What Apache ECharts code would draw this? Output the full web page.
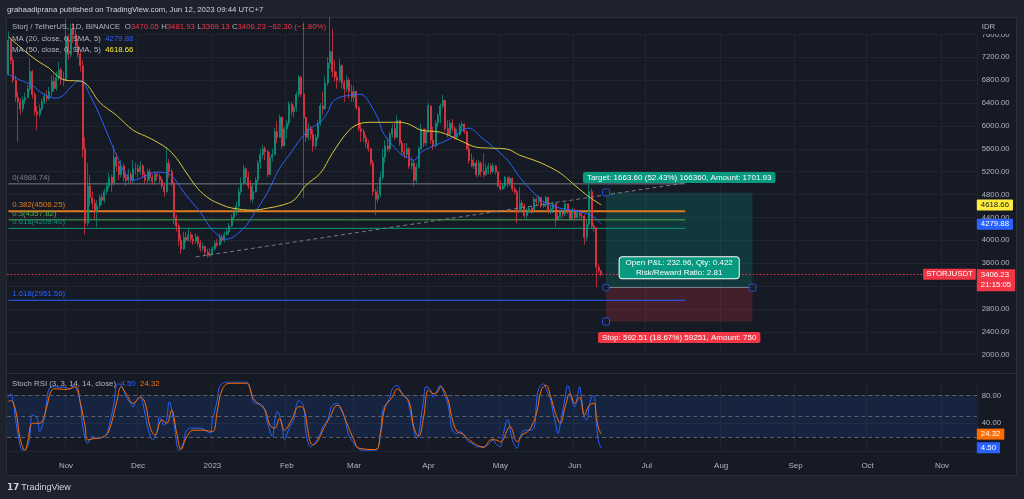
<!DOCTYPE html>
<html><head><meta charset="utf-8">
<script src="https://cdn.jsdelivr.net/npm/echarts@6/dist/echarts.min.js"></script>
<style>html,body{margin:0;padding:0;background:#1e222d;}#c{width:1024px;height:499px;}</style>
</head><body><div id="c"></div>
<script>
// ---------- data ----------
const FIRST_DAY = '2022-10-08';
const LAST_DAY = '2023-11-15';
const firstOpen = 6900;
// daily closes from 2022-10-08 to 2023-06-12
const closes = [
 // Oct 8-31
 7500,7150,6800,6500,6420,6300,6450,6500,6650,6950,6550,6250,6200,6300,6420,6520,6480,6600,6780,6650,6850,6980,6820,6800,
 // Nov
 7550,7250,7700,7600,7400,7250,7050,5600,4300,4950,4750,4650,4500,4600,4750,4700,4850,4950,5100,5000,5450,5300,5150,5300,5100,5050,5150,5050,5250,5250,
 // Dec
 5200,5300,5150,5050,5200,5100,5030,5150,5120,5050,4950,4850,5350,5200,5000,4400,4250,4000,3850,4050,4000,4100,4020,3990,4060,3950,3860,3890,3790,3740,3760,
 // Jan
 3850,3950,3920,4050,4000,4100,4150,4250,4400,4500,4600,4850,5000,5250,5100,4950,4720,4850,5050,5350,5500,5600,5550,5150,5450,5500,5900,5800,6150,5650,5950,
 // Feb
 6050,6380,6250,6320,6550,6850,6560,6150,5800,5950,5850,5650,5800,6050,6350,6300,6750,7100,7300,6950,6850,6800,7050,6750,6650,6800,6600,6500,
 // Mar
 6600,6320,5950,5900,5800,5700,5600,5350,4850,4720,4800,5100,5450,5650,5600,5850,5950,5800,6100,5700,5550,5500,5600,5300,5350,5050,5280,5600,5950,5700,5900,
 // Apr
 6350,5750,5650,6050,6180,6350,6450,5950,5850,6050,5950,5800,5850,6000,6030,5900,5600,5400,5300,5350,5150,5350,5200,5150,5250,5300,5200,5300,5200,4950,
 // May
 4900,4950,5100,5000,5080,4900,4850,4500,4650,4600,4430,4500,4560,4520,4720,4680,4750,4600,4620,4750,4500,4550,4640,4360,4420,4500,4460,4640,4500,4380,4520,
 // Jun 1-12
 4400,4480,4430,4420,4050,4280,4850,4250,4220,3530,3468.53,3406.23
];
const highs = [
 7650,7550,7200,6880,6600,6480,6520,6580,6720,7180,6980,6600,6350,6380,6480,6580,6620,6680,6880,6900,6950,7120,7020,6950,
 7870,7600,7790,7800,7700,7500,7300,7150,5800,5350,5150,4850,4720,4700,4800,4820,4900,5020,5180,5150,5660,5520,5380,5400,5350,5200,5250,5200,5400,5350,
 5330,5380,5330,5200,5250,5250,5150,5200,5200,5170,5100,5000,5630,5420,5250,5030,4450,4300,4100,4150,4150,4200,4150,4100,4120,4090,4000,3960,3900,3850,3860,
 3900,4000,4020,4120,4100,4150,4200,4300,4450,4560,4680,4920,5100,5320,5280,5200,5050,5000,5100,5400,5600,5670,5650,5580,5550,5600,5960,6080,6200,6000,6000,
 6100,6430,6420,6370,6600,6890,6880,7810,6100,6050,6000,5950,5850,6100,6400,6600,6880,7200,7900,7700,7150,6950,7180,7080,6800,6880,6850,6720,
 6700,6620,6350,6050,5950,5850,5750,5620,5400,4900,4950,5200,5600,5750,5800,5900,6030,6050,6190,6100,5750,5700,5700,5630,5460,5400,5350,5640,6040,5950,5950,
 6400,6160,5980,6100,6220,6390,6540,6450,6100,6100,6120,5990,5950,6050,6080,6050,5930,5700,5520,5450,5400,5400,5380,5520,5340,5350,5340,5350,5320,5200,
 5050,5000,5130,5110,5120,5100,4950,4880,4930,4700,4640,4560,4600,4600,4760,4750,4780,4760,4680,4780,4760,4600,4680,4650,4480,4540,4530,4660,4620,4550,4570,
 4560,4520,4500,4480,4450,4350,4990,4900,4300,4230,3590,3481.93
];
const lows = [
 6880,7080,6750,6420,5720,6200,6250,6380,6480,6600,6480,6180,5930,6150,6250,6380,6420,6450,6520,6600,6620,6800,6720,6700,
 6780,7150,7200,7450,7300,7200,6950,5450,4100,4250,4600,4550,4380,4230,4550,4620,4650,4800,4900,4850,4950,5200,5050,5100,5030,4950,5000,4980,5000,5150,
 5100,5150,5100,5000,5000,5030,4970,5000,5050,5000,4900,4760,4830,5100,4950,4280,4150,3900,3760,3830,3950,3980,3960,3920,3940,3900,3800,3810,3730,3700,3700,
 3740,3820,3880,3900,3950,3960,4080,4100,4230,4350,4440,4550,4800,4980,5000,4900,4680,4650,4830,5000,5250,5420,5400,5100,5300,5380,5480,5700,5850,5600,5700,
 5780,6000,6180,6150,6250,6500,6500,4740,5720,5750,5750,5550,5600,5750,6000,6200,6280,6700,7000,6850,6770,6650,6750,6650,6420,6600,6480,6420,
 6420,6280,5900,5720,5720,5620,5550,5300,4780,4440,4650,4750,5050,5350,5550,5550,5800,5750,5780,5650,5480,5430,5450,5250,5230,4940,5000,5250,5580,5630,5650,
 5880,5690,5580,5620,5980,6040,6300,5900,5800,5830,5900,5750,5760,5820,5900,5860,5570,5340,5280,5250,5100,5110,5110,5100,5120,5160,5150,5170,5150,4930,
 4870,4880,4900,4930,4950,4850,4800,4300,4480,4500,4400,4380,4470,4460,4480,4600,4620,4560,4560,4580,4460,4460,4480,4240,4340,4380,4400,4420,4460,4350,4360,
 4350,4380,4380,4350,3920,3980,4230,4200,4150,3180,3420,3369.13
];
// moving averages
const ma20Points = [
 ['2022-10-08',6900],['2022-10-13',6800],['2022-10-18',6710],['2022-10-22',6570],['2022-10-28',6485],['2022-10-31',6540],
 ['2022-11-03',6680],['2022-11-07',6800],['2022-11-11',6535],['2022-11-15',6190],['2022-11-19',5785],['2022-11-22',5490],
 ['2022-11-26',5140],['2022-11-29',5050],['2022-12-03',5105],['2022-12-09',5190],['2022-12-13',5175],['2022-12-16',5085],
 ['2022-12-21',4790],['2022-12-27',4490],['2023-01-01',4180],['2023-01-07',4020],['2023-01-14',4210],['2023-01-18',4440],
 ['2023-01-24',4840],['2023-01-29',5260],['2023-02-02',5490],['2023-02-07',5785],['2023-02-11',5960],['2023-02-15',6065],
 ['2023-02-18',6240],['2023-02-20',6415],['2023-02-23',6500],['2023-02-27',6535],['2023-03-02',6555],['2023-03-05',6535],
 ['2023-03-08',6360],['2023-03-11',6135],['2023-03-13',5890],['2023-03-17',5665],['2023-03-21',5490],['2023-03-24',5435],
 ['2023-03-26',5400],['2023-03-29',5540],['2023-04-02',5630],['2023-04-07',5715],['2023-04-11',5800],['2023-04-15',5925],
 ['2023-04-18',5960],['2023-04-23',5800],['2023-04-28',5630],['2023-05-04',5400],['2023-05-09',5105],['2023-05-15',4825],
 ['2023-05-20',4650],['2023-05-26',4560],['2023-05-31',4525],['2023-06-04',4490],['2023-06-09',4405],['2023-06-12',4279.88]
];
const ma50Points = [
 ['2022-10-08',7560],['2022-10-13',7375],['2022-10-17',7235],['2022-10-21',7113],['2022-10-25',7008],['2022-10-29',6851],
 ['2022-11-01',6798],['2022-11-07',6781],['2022-11-10',6711],['2022-11-15',6414],['2022-11-22',6187],['2022-11-29',5925],
 ['2022-12-06',5785],['2022-12-13',5610],['2022-12-17',5436],['2022-12-21',5191],['2022-12-26',4900],['2022-12-31',4720],
 ['2023-01-05',4620],['2023-01-09',4565],['2023-01-18',4527],['2023-01-24',4562],['2023-01-30',4614],['2023-02-04',4702],
 ['2023-02-09',4964],['2023-02-15',5174],['2023-02-20',5523],['2023-02-27',5925],['2023-03-04',6047],['2023-03-09',6064],
 ['2023-03-15',6064],['2023-03-20',6064],['2023-03-24',6029],['2023-03-29',5925],['2023-04-06',5890],['2023-04-14',5750],
 ['2023-04-21',5628],['2023-04-28',5610],['2023-05-04',5593],['2023-05-09',5488],['2023-05-15',5401],['2023-05-20',5313],
 ['2023-05-26',5174],['2023-05-31',4999],['2023-06-06',4789],['2023-06-12',4618.66]
];
// Stoch RSI %K (blue) and %D (orange)
const stochK = [
 ['2022-10-08',78],['2022-10-09',83],['2022-10-10',71],['2022-10-11',45],['2022-10-13',6],['2022-10-14',1],['2022-10-16',6],
 ['2022-10-17',25],['2022-10-18',52],['2022-10-20',47],['2022-10-21',28],['2022-10-23',49],['2022-10-24',73],['2022-10-25',90],
 ['2022-10-27',93],['2022-10-31',92],['2022-11-03',90],['2022-11-04',95],['2022-11-05',93],['2022-11-07',69],['2022-11-08',35],
 ['2022-11-10',11],['2022-11-11',16],['2022-11-12',21],['2022-11-14',18],['2022-11-17',21],['2022-11-18',25],['2022-11-19',37],
 ['2022-11-21',69],['2022-11-22',95],['2022-11-23',97],['2022-11-25',88],['2022-11-26',78],['2022-11-28',69],['2022-11-29',64],
 ['2022-11-30',71],['2022-12-02',78],['2022-12-03',69],['2022-12-05',35],['2022-12-06',23],['2022-12-07',16],['2022-12-09',28],
 ['2022-12-10',49],['2022-12-12',37],['2022-12-13',47],['2022-12-14',71],['2022-12-16',40],['2022-12-17',13],['2022-12-18',1],
 ['2022-12-20',13],['2022-12-21',28],['2022-12-23',33],['2022-12-27',33],['2022-12-31',26],['2023-01-01',45],['2023-01-03',73],
 ['2023-01-04',93],['2023-01-07',100],['2023-01-15',100],['2023-01-17',88],['2023-01-18',71],['2023-01-19',69],['2023-01-22',66],
 ['2023-01-24',40],['2023-01-26',21],['2023-01-27',45],['2023-01-28',57],['2023-01-30',37],['2023-01-31',16],['2023-02-02',33],
 ['2023-02-04',47],['2023-02-05',66],['2023-02-06',73],['2023-02-08',64],['2023-02-09',25],['2023-02-11',6],['2023-02-12',9],
 ['2023-02-13',13],['2023-02-15',25],['2023-02-16',35],['2023-02-18',45],['2023-02-19',57],['2023-02-20',66],['2023-02-22',69],
 ['2023-02-23',64],['2023-02-25',49],['2023-02-26',33],['2023-02-27',21],['2023-03-01',11],['2023-03-02',6],['2023-03-04',1],
 ['2023-03-10',1],['2023-03-12',25],['2023-03-13',59],['2023-03-15',71],['2023-03-16',78],['2023-03-17',90],['2023-03-19',95],
 ['2023-03-20',90],['2023-03-22',78],['2023-03-23',76],['2023-03-24',64],['2023-03-26',30],['2023-03-27',18],['2023-03-28',25],
 ['2023-03-29',50],['2023-03-30',73],['2023-03-31',93],['2023-04-02',88],['2023-04-03',78],['2023-04-04',83],['2023-04-06',95],
 ['2023-04-07',88],['2023-04-09',69],['2023-04-10',49],['2023-04-11',30],['2023-04-13',25],['2023-04-14',28],['2023-04-16',23],
 ['2023-04-17',16],['2023-04-18',13],['2023-04-20',9],['2023-04-21',6],['2023-04-24',6],['2023-04-27',13],['2023-04-28',18],
 ['2023-04-29',11],['2023-05-01',6],['2023-05-02',21],['2023-05-04',45],['2023-05-06',16],['2023-05-08',4],['2023-05-09',16],
 ['2023-05-11',30],['2023-05-12',30],['2023-05-15',33],['2023-05-16',69],['2023-05-17',90],['2023-05-19',97],['2023-05-20',90],
 ['2023-05-22',73],['2023-05-23',54],['2023-05-24',40],['2023-05-25',25],['2023-05-26',40],['2023-05-28',78],['2023-05-29',95],
 ['2023-05-31',71],['2023-06-01',64],['2023-06-02',78],['2023-06-03',93],['2023-06-04',70],['2023-06-05',48],['2023-06-06',45],
 ['2023-06-07',65],['2023-06-08',78],['2023-06-09',80],['2023-06-10',40],['2023-06-11',12],['2023-06-12',4.50]
];
const stochD = [
 ['2022-10-08',72],['2022-10-09',73],['2022-10-11',59],['2022-10-13',16],['2022-10-15',1],['2022-10-16',13],['2022-10-18',40],
 ['2022-10-20',40],['2022-10-22',42],['2022-10-24',64],['2022-10-26',88],['2022-10-28',90],['2022-11-01',89],['2022-11-05',93],
 ['2022-11-07',69],['2022-11-09',35],['2022-11-10',16],['2022-11-13',18],['2022-11-17',21],['2022-11-19',30],['2022-11-22',69],
 ['2022-11-24',93],['2022-11-26',83],['2022-11-29',69],['2022-12-02',78],['2022-12-04',69],['2022-12-06',35],['2022-12-08',23],
 ['2022-12-11',45],['2022-12-13',40],['2022-12-15',59],['2022-12-17',28],['2022-12-19',2],['2022-12-21',18],['2022-12-24',30],
 ['2022-12-28',30],['2023-01-01',28],['2023-01-03',57],['2023-01-05',88],['2023-01-08',98],['2023-01-15',98],['2023-01-18',76],
 ['2023-01-21',66],['2023-01-23',59],['2023-01-25',37],['2023-01-27',33],['2023-01-29',47],['2023-01-31',30],['2023-02-03',45],
 ['2023-02-06',64],['2023-02-08',62],['2023-02-10',25],['2023-02-11',11],['2023-02-12',9],['2023-02-14',15],['2023-02-16',30],
 ['2023-02-19',49],['2023-02-22',66],['2023-02-23',65],['2023-02-26',40],['2023-03-01',16],['2023-03-03',4],['2023-03-10',2],
 ['2023-03-12',25],['2023-03-14',64],['2023-03-17',78],['2023-03-19',90],['2023-03-21',83],['2023-03-24',71],['2023-03-26',33],
 ['2023-03-28',21],['2023-03-30',49],['2023-04-01',88],['2023-04-03',83],['2023-04-05',86],['2023-04-06',93],['2023-04-09',76],
 ['2023-04-11',45],['2023-04-13',28],['2023-04-15',25],['2023-04-18',16],['2023-04-21',9],['2023-04-24',5],['2023-04-27',16],
 ['2023-04-29',16],['2023-05-01',13],['2023-05-05',35],['2023-05-08',13],['2023-05-10',23],['2023-05-13',30],['2023-05-16',54],
 ['2023-05-18',88],['2023-05-20',95],['2023-05-22',78],['2023-05-24',54],['2023-05-26',40],['2023-05-28',64],['2023-05-30',83],
 ['2023-06-01',69],['2023-06-03',78],['2023-06-05',52],['2023-06-07',66],['2023-06-09',69],['2023-06-10',48],['2023-06-11',32],
 ['2023-06-12',24.32]
];
const monthTicks = [
 ['2022-11-01','Nov'],['2022-12-01','Dec'],['2023-01-01','2023'],['2023-02-01','Feb'],['2023-03-01','Mar'],['2023-04-01','Apr'],
 ['2023-05-01','May'],['2023-06-01','Jun'],['2023-07-01','Jul'],['2023-08-01','Aug'],['2023-09-01','Sep'],['2023-10-01','Oct'],['2023-11-01','Nov']
];
const fibLevels = [
 ['0',4986.74,'#787b86'],['0.382',4506.25,'#e07b1f'],['0.5',4357.82,'#4caf50'],['0.618',4209.40,'#089981'],['1.618',2951.56,'#2962ff']
];
const fibStart = '2022-10-08', fibEnd = '2023-07-17';
const trendLine = [['2022-12-25',3709],['2023-07-17',5003]];
const position = {start:'2023-06-14', end:'2023-08-14', entry:3173.1, target:4836.7, stop:2580.6};
const lastClose = 3406.23, ma20Last = 4279.88, ma50Last = 4618.66, kLast = 4.50, dLast = 24.32;

// ---------- build ----------
const days = [];
{
  const a = FIRST_DAY.split('-').map(Number), b = LAST_DAY.split('-').map(Number);
  for (let t = Date.UTC(a[0],a[1]-1,a[2]); t <= Date.UTC(b[0],b[1]-1,b[2]); t += 86400000) {
    days.push(new Date(t).toISOString().slice(0,10));
  }
}
const candles = closes.map((c,i)=>[i===0?firstOpen:closes[i-1], c, lows[i], highs[i]]);
const monthMap = {}; monthTicks.forEach(([d,l])=>monthMap[d]=l);
const isMonth = (idx, val) => monthMap[val] !== undefined;
const FONT = '"Liberation Sans", Arial, sans-serif';
const GRIDC = '#20242f';
const UP = '#089981', DOWN = '#f23645';
const LEG = '7.8px ' + FONT;

const chart = echarts.init(document.getElementById('c'), null, {width:1024, height:499});

const xCommon = {
  type:'category', data: days, boundaryGap: true,
  axisLine:{show:false}, axisTick:{show:false},
  splitLine:{show:true, interval: isMonth, lineStyle:{color:GRIDC, width:1}}
};

const series = [
  {
    type:'candlestick', name:'STORJUSDT', xAxisIndex:0, yAxisIndex:0, data: candles,
    barWidth: 1.4, clip:false,
    itemStyle:{color:UP, color0:DOWN, borderColor:UP, borderColor0:DOWN, borderWidth:0.7},
    markLine:{silent:true, symbol:['none','none'], label:{show:false},
      lineStyle:{color:DOWN, type:[1.5,2], width:1}, data:[{yAxis:lastClose}]},
    z:3
  },
  {type:'line', name:'MA20', xAxisIndex:0, yAxisIndex:0, data: ma20Points, smooth:0.35, showSymbol:false,
   lineStyle:{color:'#2962ff', width:1}, z:4},
  {type:'line', name:'MA50', xAxisIndex:0, yAxisIndex:0, data: ma50Points, smooth:0.35, showSymbol:false,
   lineStyle:{color:'#d9c63c', width:1}, z:4},
  {type:'line', name:'trend', xAxisIndex:0, yAxisIndex:0, data: trendLine, showSymbol:false,
   lineStyle:{color:'#787b86', width:1, type:[4,3]}, z:4}
];
fibLevels.forEach(([name, lvl, col])=>{
  series.push({type:'line', name:'fib'+name, xAxisIndex:0, yAxisIndex:0,
    data:[[fibStart,lvl],[fibEnd,lvl]], showSymbol:false,
    lineStyle:{color:col, width: name==='0.382'?2:1}, z:2});
});
// position tool (zones + handles)
series.push({
  type:'scatter', name:'positionHandles', xAxisIndex:0, yAxisIndex:0,
  data:[[position.start, position.target],[position.end, position.entry],[position.start, position.stop]],
  symbol:'roundRect', symbolSize:7,
  itemStyle:{color:'#161a25', borderColor:'#2962ff', borderWidth:1},
  markArea:{silent:true, data:[
    [{coord:[position.start, position.entry], itemStyle:{color:'rgba(8,153,129,0.24)'}},{coord:[position.end, position.target]}],
    [{coord:[position.start, position.stop], itemStyle:{color:'rgba(242,54,69,0.2)'}},{coord:[position.end, position.entry]}]
  ]},
  markLine:{silent:true, symbol:['none','none'], label:{show:false}, lineStyle:{color:'#787b86', width:1, type:'solid'},
    data:[[{coord:[position.start, position.entry]},{coord:[position.end, position.entry]}]]},
  z:6
});
series.push({
  type:'scatter', name:'entryHandle', xAxisIndex:0, yAxisIndex:0,
  data:[[position.start, position.entry]], symbol:'circle', symbolSize:7,
  itemStyle:{color:'#161a25', borderColor:'#2962ff', borderWidth:1}, z:6
});
// stoch rsi
series.push({
  type:'line', name:'K', xAxisIndex:1, yAxisIndex:1, data: stochK, smooth:0.4, showSymbol:false,
  lineStyle:{color:'#2962ff', width:1}, z:4,
  markArea:{silent:true, itemStyle:{color:'rgba(33,110,243,0.13)'}, data:[[{yAxis:20},{yAxis:80}]]},
  markLine:{silent:true, symbol:['none','none'], label:{show:false},
    lineStyle:{color:'#5d606b', width:1, type:[4,3]}, data:[{yAxis:80},{yAxis:50},{yAxis:20}]}
});
series.push({
  type:'line', name:'D', xAxisIndex:1, yAxisIndex:1, data: stochD, smooth:0.4, showSymbol:false,
  lineStyle:{color:'#ff6d00', width:1}, z:4
});

chart.setOption({
  animation:false,
  backgroundColor:'#1e222d',
  textStyle:{fontFamily:FONT},
  grid:[
    {left:7.2, right:47.2, top:34.4, height:320.3},
    {left:7.2, right:47.2, top:381.9, height:69}
  ],
  xAxis:[
    Object.assign({gridIndex:0, axisLabel:{show:false}}, xCommon),
    Object.assign({gridIndex:1, axisLabel:{show:true, interval:isMonth, hideOverlap:false,
      formatter:(v)=>monthMap[v]||'', color:'#b2b5be', fontSize:8, margin:11, fontFamily:FONT}}, xCommon)
  ],
  yAxis:[
    {type:'value', gridIndex:0, position:'right', min:2000, max:7600, interval:400, scale:true,
     axisLine:{show:false}, axisTick:{show:false},
     axisLabel:{formatter:(v)=>v.toFixed(2), color:'#b2b5be', fontSize:7.7, margin:5, fontFamily:FONT},
     splitLine:{lineStyle:{color:GRIDC}}},
    {type:'value', gridIndex:1, position:'right', min:0, max:100, interval:40,
     axisLine:{show:false}, axisTick:{show:false},
     axisLabel:{formatter:(v)=>(v===40||v===80)?v.toFixed(2):'', color:'#b2b5be', fontSize:7.7, margin:5, fontFamily:FONT, showMaxLabel:false},
     splitLine:{lineStyle:{color:[GRIDC,GRIDC,GRIDC,'rgba(0,0,0,0)']}}}
  ],
  series: series
});

// ---------- overlays positioned through the chart's scales ----------
const yP = (v)=>chart.convertToPixel({yAxisIndex:0}, v);
const yS = (v)=>chart.convertToPixel({yAxisIndex:1}, v);
const xy = (d,v)=>chart.convertToPixel({gridIndex:0}, [d,v]);
const gRect = chart.getModel().getComponent('grid',0).coordinateSystem.getRect();
const plotRight = gRect.x + gRect.width;
const plotLeft = gRect.x;

function txt(x,y,text,opt){
  return Object.assign({type:'text', x:x, y:y, z:50, silent:true,
    style:Object.assign({text:text, fill:'#b2b5be', font:'8px '+FONT, align:'left', verticalAlign:'middle'}, opt||{})});
}
function tag(y, text, bg, fg){
  return txt(plotRight, y, text, {fill:fg, backgroundColor:bg, padding:[2,4,1,4], borderRadius:1, font:'7.8px '+FONT});
}

const gfx = [];
gfx.push({type:'rect', z:-10, silent:true, shape:{x:6.5, y:17.5, width:1010, height:458},
  style:{fill:'#161a25', stroke:'#2a2e39', lineWidth:1}});
gfx.push({type:'line', z:-9, silent:true, shape:{x1:6.5, y1:373.5, x2:1016.5, y2:373.5}, style:{stroke:'#2a2e39', lineWidth:1}});

// header & legends
gfx.push(txt(7, 10, 'grahaadiprana published on TradingView.com, Jun 12, 2023 09:44 UTC+7', {fill:'#d1d4dc', font:LEG}));
gfx.push(txt(12, 27, '{g|Storj / TetherUS, 1D, BINANCE  O}{r|3470.05} {g|H}{r|3481.93} {g|L}{r|3369.13} {g|C}{r|3406.23} {r|−62.30 (−1.80%)}',
  {rich:{g:{fill:'#b2b5be', font:LEG}, r:{fill:DOWN, font:LEG}}}));
gfx.push(txt(12, 38.5, '{g|MA (20, close, 0, SMA, 5)}  {b|'+ma20Last.toFixed(2)+'}',
  {rich:{g:{fill:'#b2b5be', font:LEG}, b:{fill:'#2962ff', font:LEG}}}));
gfx.push(txt(12, 50, '{g|MA (50, close, 0, SMA, 5)}  {y|'+ma50Last.toFixed(2)+'}',
  {rich:{g:{fill:'#b2b5be', font:LEG}, y:{fill:'#ffeb3b', font:LEG}}}));
gfx.push(txt(12, 384, '{g|Stoch RSI (3, 3, 14, 14, close)}  {b|'+kLast.toFixed(2)+'}  {o|'+dLast.toFixed(2)+'}',
  {rich:{g:{fill:'#b2b5be', font:LEG}, b:{fill:'#2962ff', font:LEG}, o:{fill:'#ff6d00', font:LEG}}}));
gfx.push(txt(plotRight+4, 27, 'IDR', {fill:'#b2b5be', backgroundColor:'#161a25', padding:[3,14,3,1], font:LEG}));

// fib labels
fibLevels.forEach(([name,lvl,col])=>{
  gfx.push(txt(plotLeft+5, yP(lvl)-2, name+'('+lvl.toFixed(2)+')', {fill:col, verticalAlign:'bottom', font:LEG}));
});

// axis tags
gfx.push(tag(yP(ma50Last), ma50Last.toFixed(2), '#ffeb3b', '#131722'));
gfx.push(tag(yP(ma20Last), ma20Last.toFixed(2), '#2962ff', '#ffffff'));
gfx.push(txt(plotRight, yP(lastClose)-5, lastClose.toFixed(2)+'\n21:15:05',
  {fill:'#ffffff', backgroundColor:DOWN, padding:[1,4,1,4], lineHeight:10, verticalAlign:'top', font:'7.8px '+FONT}));
gfx.push(txt(plotRight-1, yP(lastClose), 'STORJUSDT', {fill:'#ffffff', backgroundColor:DOWN, padding:[2,3,1,3], align:'right', font:'7.8px '+FONT}));
gfx.push(txt(plotRight, yS(dLast), dLast.toFixed(2), {fill:'#ffffff', backgroundColor:'#ff6d00', padding:[2,4,1,4], font:'7.8px '+FONT}));
gfx.push(txt(plotRight, yS(kLast), kLast.toFixed(2), {fill:'#ffffff', backgroundColor:'#2962ff', padding:[2,4,1,4], font:'7.8px '+FONT}));

// position tool labels
const pS = xy(position.start, position.target), pE = xy(position.end, position.target);
const cx = (pS[0]+pE[0])/2;
gfx.push(txt(cx, pS[1]-15, 'Target: 1663.60 (52.43%) 166360, Amount: 1701.93',
  {fill:'#ffffff', backgroundColor:UP, padding:[2,4,1,4], borderRadius:2, align:'center'}));
gfx.push(txt(cx, yP(lastClose)-6.5, 'Open P&L: 232.96, Qty: 0.422\nRisk/Reward Ratio: 2.81',
  {fill:'#ffffff', backgroundColor:UP, padding:[1,6,1,6], borderRadius:3, borderColor:'#ffffff', borderWidth:1,
   lineHeight:9.5, align:'center'}));
gfx.push(txt(cx, yP(position.stop)+16, 'Stop: 592.51 (18.67%) 59251, Amount: 750',
  {fill:'#ffffff', backgroundColor:DOWN, padding:[2,4,1,4], borderRadius:2, align:'center'}));

// footer logo
gfx.push(txt(7, 488, '{l|𝟭𝟳} {t|TradingView}',
  {rich:{l:{fill:'#d1d4dc', font:'bold 9px '+FONT}, t:{fill:'#d1d4dc', font:'9px '+FONT}}}));

chart.setOption({graphic:{elements:gfx}});
</script>
</body></html>
